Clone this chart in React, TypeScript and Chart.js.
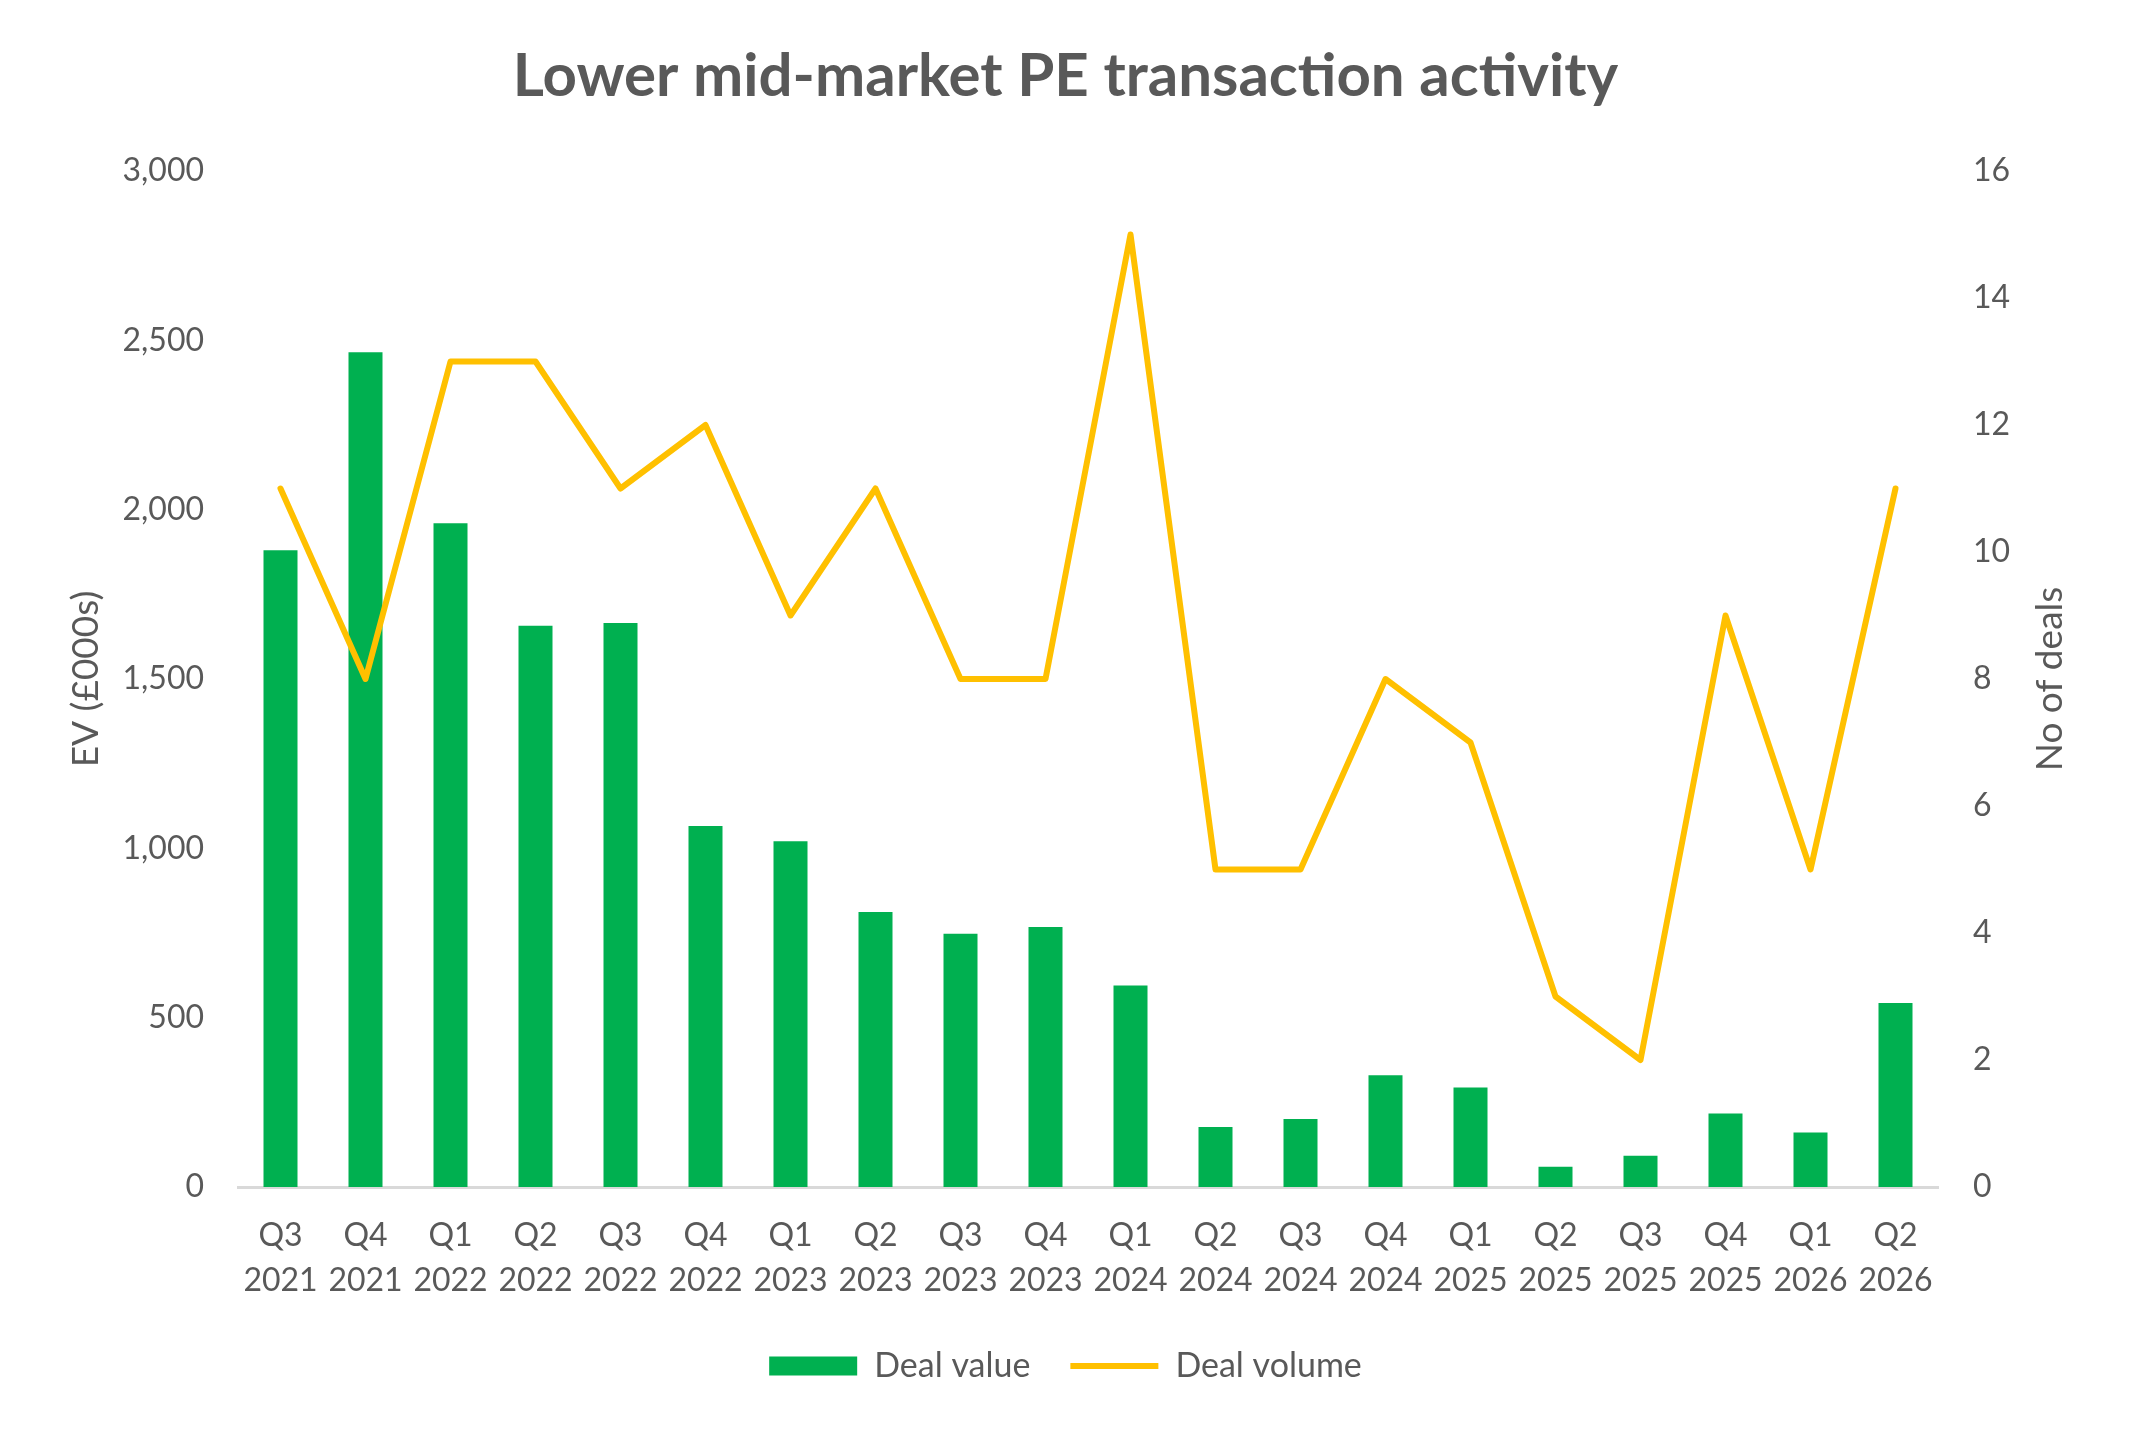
import React, { useEffect, useRef } from 'react';
import Chart from 'chart.js/auto';

const quarters = ['Q3', 'Q4', 'Q1', 'Q2', 'Q3', 'Q4', 'Q1', 'Q2', 'Q3', 'Q4', 'Q1', 'Q2', 'Q3', 'Q4', 'Q1', 'Q2', 'Q3', 'Q4', 'Q1', 'Q2'];
const years = ['2021', '2021', '2022', '2022', '2022', '2022', '2023', '2023', '2023', '2023', '2024', '2024', '2024', '2024', '2025', '2025', '2025', '2025', '2026', '2026'];

// EV in £000s
const dealValue = [1880, 2465, 1960, 1657, 1665, 1066, 1021, 812, 748, 768, 595, 177, 201, 330, 294, 60, 92, 217, 161, 543];
// number of deals
const dealVolume = [11, 8, 13, 13, 11, 12, 9, 11, 8, 8, 15, 5, 5, 8, 7, 3, 2, 9, 5, 11];

const GREEN = '#00B050';
const GOLD = '#FFC000';
const TEXT = '#595959';
const FONT = 'Lato';

// right axis title reads bottom-to-top like Excel, so draw it by hand
const rightTitlePlugin = {
  id: 'rightTitle',
  afterDraw(chart: any) {
    const scale = chart.scales.y1;
    if (!scale) return;
    const { ctx, chartArea } = chart;
    ctx.save();
    ctx.translate(scale.left + 112, (chartArea.top + chartArea.bottom) / 2);
    ctx.rotate(-Math.PI / 2);
    ctx.font = `37px ${FONT}`;
    ctx.fillStyle = TEXT;
    ctx.textAlign = 'center';
    ctx.textBaseline = 'middle';
    ctx.fillText('No of deals', 0, 0);
    ctx.restore();
  }
};

const DealChart: React.FC = () => {
  const canvasRef = useRef<HTMLCanvasElement>(null);
  const chartRef = useRef<Chart | null>(null);

  useEffect(() => {
    if (!canvasRef.current) return;
    if (chartRef.current) chartRef.current.destroy();
    const ctx = canvasRef.current.getContext('2d');
    if (!ctx) return;

    chartRef.current = new Chart(ctx, {
      type: 'bar',
      data: {
        labels: quarters.map((q, i) => [q, years[i]]),
        datasets: [
          {
            type: 'bar',
            label: 'Deal value',
            data: dealValue,
            backgroundColor: GREEN,
            borderWidth: 0,
            barPercentage: 0.4,
            categoryPercentage: 1,
            yAxisID: 'y',
            order: 2,
            pointStyle: 'rect'
          },
          {
            type: 'line',
            label: 'Deal volume',
            data: dealVolume,
            borderColor: GOLD,
            backgroundColor: GOLD,
            borderWidth: 6,
            borderCapStyle: 'round',
            borderJoinStyle: 'round',
            tension: 0,
            pointRadius: 0,
            pointHoverRadius: 0,
            pointStyle: 'line',
            yAxisID: 'y1',
            order: 1
          }
        ] as any
      },
      options: {
        animation: false,
        responsive: true,
        maintainAspectRatio: false,
        layout: { padding: { top: 0, bottom: 36, left: 0, right: 0 } },
        scales: {
          x: {
            grid: { display: false, drawTicks: false },
            border: { display: true, color: '#D9D9D9', width: 3 },
            ticks: {
              color: TEXT,
              font: { family: FONT, size: 32, lineHeight: 1.4 },
              padding: 26,
              maxRotation: 0,
              autoSkip: false
            },
            afterFit: (scale: any) => {
              scale.height = 122;
            }
          },
          y: {
            position: 'left',
            min: 0,
            max: 3000,
            grid: { display: false, drawTicks: false },
            border: { display: false },
            ticks: {
              stepSize: 500,
              color: TEXT,
              font: { family: FONT, size: 32 },
              padding: 34,
              callback: (v: any) => Number(v).toLocaleString('en-US')
            },
            title: {
              display: true,
              text: 'EV (£000s)',
              color: TEXT,
              font: { family: FONT, size: 37, lineHeight: 1.2 },
              padding: { top: 64, bottom: 0 }
            },
            afterFit: (scale: any) => {
              scale.width = 238;
            }
          },
          y1: {
            position: 'right',
            min: 0,
            max: 16,
            grid: { display: false, drawTicks: false },
            border: { display: false },
            ticks: {
              stepSize: 2,
              color: TEXT,
              font: { family: FONT, size: 32 },
              padding: 35
            },
            afterFit: (scale: any) => {
              scale.width = 193;
            }
          }
        },
        plugins: {
          title: {
            display: true,
            text: 'Lower mid-market PE transaction activity',
            color: TEXT,
            font: { family: FONT, size: 60, weight: 'bold', lineHeight: 1.2 },
            padding: { top: 41, bottom: 58 }
          },
          legend: {
            position: 'bottom',
            labels: {
              usePointStyle: true,
              pointStyleWidth: 88,
              boxHeight: 19,
              color: TEXT,
              font: { family: FONT, size: 34 },
              padding: 40,
              sort: (a: any, b: any) => a.datasetIndex - b.datasetIndex
            }
          },
          tooltip: { enabled: false }
        }
      } as any,
      plugins: [rightTitlePlugin]
    });

    return () => {
      if (chartRef.current) {
        chartRef.current.destroy();
        chartRef.current = null;
      }
    };
  }, []);

  return (
    <div style={{ position: 'fixed', left: 0, top: 0, width: '2131px', height: '1429px', background: '#fff' }}>
      <canvas ref={canvasRef} />
    </div>
  );
};

export default function App() {
  return <DealChart />;
}
